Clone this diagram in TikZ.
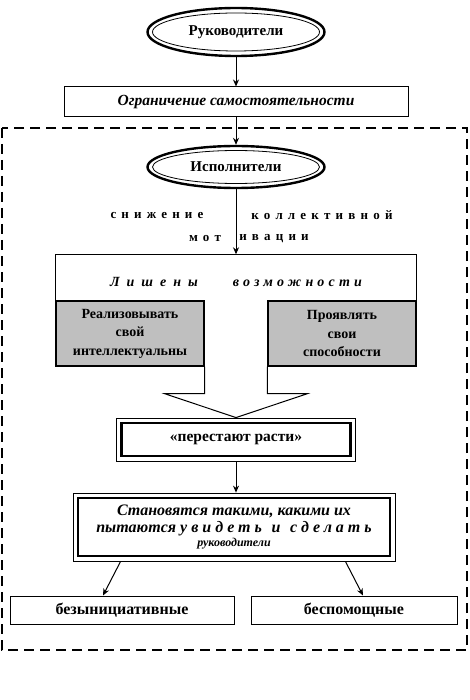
\documentclass[tikz,border=0pt]{standalone}
\usepackage{fontspec}
\setmainfont{Liberation Serif}
\usetikzlibrary{shapes.geometric,arrows.meta}

\begin{document}
\begin{tikzpicture}[
    x=1pt, y=-1pt,
    >={Stealth[length=7pt,width=6pt]},
    every node/.style={font=\bfseries\fontsize{15}{18}\selectfont},
    box/.style={
        draw,
        line width=1pt,
        minimum height=28pt,
        align=center,
        inner sep=0pt
    },
    ovalout/.style={draw, ellipse, line width=2.4pt, inner sep=0pt},
    ovalin/.style={draw, ellipse, line width=0.8pt, inner sep=0pt},
    frameout/.style={draw, line width=0.8pt, inner sep=0pt},
    framein/.style={draw, line width=2.6pt, align=center, inner sep=0pt},
    skillbox/.style={
        draw,
        fill=black!25,
        line width=1.4pt,
        minimum width=148pt,
        minimum height=65pt,
        align=center,
        inner sep=0pt,
        font=\bfseries\fontsize{14}{18.5}\selectfont
    },
    spaced/.style={font=\bfseries\fontsize{13}{15}\selectfont\addfontfeature{LetterSpace=40}}
]

\useasboundingbox (0,0) rectangle (470,700);

\draw[line width=1.6pt, dash pattern=on 10pt off 6pt] (2,128) rectangle (467,650);

\node[ovalout, minimum width=177pt, minimum height=48pt] (bossring) at (236,32) {};
\node[ovalin, minimum width=167pt, minimum height=38pt] (boss) at (236,32) {Руководители};

\node[box, minimum width=344pt, minimum height=30pt,
    font=\bfseries\itshape\fontsize{15.5}{18}\selectfont] (limit) at (236,102)
    {Ограничение самостоятельности};

\node[ovalout, minimum width=177pt, minimum height=42pt] (workring) at (236,167) {};
\node[ovalin, minimum width=167pt, minimum height=33pt] (work) at (236,167) {Исполнители};

\node[spaced] (drop) at (157,215) {снижение};
\node[spaced] (collective) at (322,215) {коллективной};
\node[spaced] (mot) at (205,239) {мот};
\node[spaced] (ivation) at (274,239) {ивации};

\node[font=\bfseries\itshape\fontsize{14}{16}\selectfont] (deprived) at (236,282)
    {{\addfontfeature{LetterSpace=50}Лишены}\hspace{2.5em}{\addfontfeature{LetterSpace=30}возможности}};

\node[skillbox] (realize) at (130,333.5) {Реализовывать\\свой\\интеллектуальны};
\node[skillbox] (show) at (342,333.5) {Проявлять\\свои\\способности};

\node[frameout, minimum width=239pt, minimum height=43pt] (stopring) at (236,439.5) {};
\node[framein, minimum width=229pt, minimum height=33pt] (stop) at (236,439.5)
    {\fontsize{15.5}{18}\selectfont«перестают расти»};

\node[frameout, minimum width=322pt, minimum height=68pt] (becomering) at (234,527) {};
\node[framein, minimum width=312pt, minimum height=58pt,
    font=\bfseries\itshape\fontsize{16}{17}\selectfont] (become) at (234,527)
    {Становятся такими, какими их\\пытаются {\addfontfeature{LetterSpace=25}увидеть\hspace{0.6em}и\hspace{0.6em}сделать}\\[-3pt]
    {\fontsize{12}{13}\selectfont руководители}};

\node[box, minimum width=224pt] (passive) at (122,610) {\fontsize{16}{18}\selectfont безынициативные};
\node[box, minimum width=206pt] (helpless) at (354,610) {\fontsize{16}{18}\selectfont беспомощные};

\draw[line width=1pt] (realize.north west) -- ++(0,-46) coordinate (topleft) -| (show.north east);
\draw[line width=1pt] (realize.south east) -- ++(0,27) -- ++(-40,0) -- (stopring.north);
\draw[line width=1pt] (show.south west) -- ++(0,27) -- ++(40,0) -- (stopring.north);

\draw[->, line width=1pt] (bossring) -- (limit);
\draw[->, line width=1pt] (limit) -- (workring);
\draw[->, line width=1pt] (workring.south) -- (workring.south |- topleft);
\draw[->, line width=1pt] (stopring.south) -- (stopring.south |- becomering.north);
\draw[->, line width=1pt] ([xshift=48pt]becomering.south west) -- ([xshift=-19pt]passive.north);
\draw[->, line width=1pt] ([xshift=-50pt]becomering.south east) -- ([xshift=9pt]helpless.north);

\end{tikzpicture}
\end{document}
